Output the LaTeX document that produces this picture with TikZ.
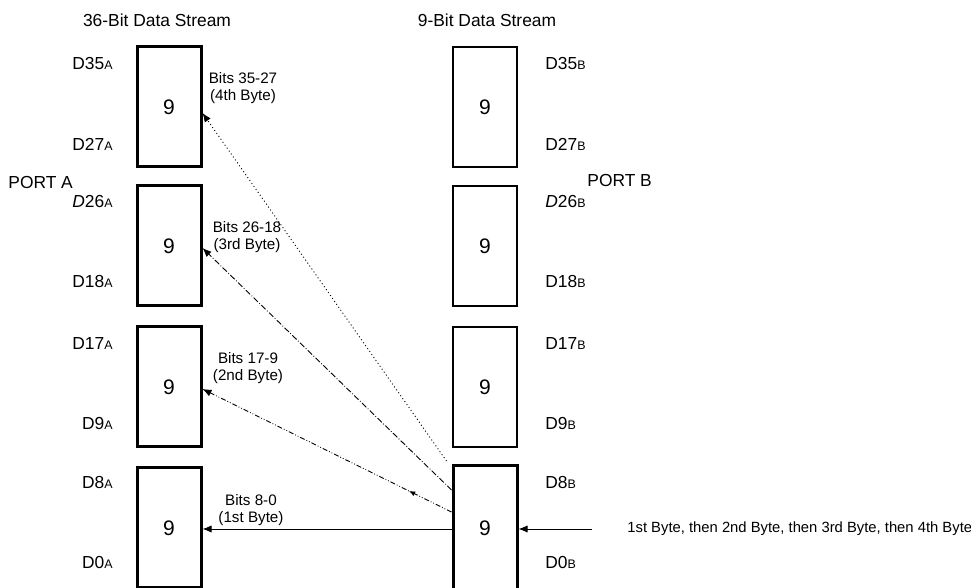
\documentclass[tikz,border=0pt]{standalone}
\usepackage{fontspec}
\setmainfont{Liberation Sans}
\usetikzlibrary{positioning, calc, arrows.meta, decorations.markings}

\newcommand{\sub}[1]{{\fontsize{6.2pt}{7pt}\selectfont #1}}

\begin{document}
\begin{tikzpicture}[
    x=0.5pt, y=-0.5pt,
    >={Latex[length=4.5pt,width=3.6pt]},
    txt/.style={font=\fontsize{8.7pt}{8.2pt}\selectfont, inner sep=0pt},
    blk/.style={draw, minimum width=32pt, minimum height=60pt, inner sep=0pt, font=\fontsize{10.5pt}{12pt}\selectfont},
    blkA/.style={blk, line width=1.5pt},
    blkB/.style={blk, line width=0.6pt},
    blkBin/.style={blk, line width=1.5pt, minimum height=62pt},
    lblA/.style={txt, anchor=east},
    lblB/.style={txt, anchor=west},
    bitlbl/.style={txt, align=center, font=\fontsize{7.6pt}{8.2pt}\selectfont},
    flow/.style={->, line width=0.45pt},
    midtip/.style={postaction={decorate}, decoration={markings,
        mark=at position 0.17 with {\arrow{Latex[length=3pt,width=2.6pt]}}}},
]
\useasboundingbox (0,0) rectangle (971,588);

% ─── Headers ───
\node[txt] at (157, 20) (hdrA) {36-Bit Data Stream};
\node[txt] at (487, 20) (hdrB) {9-Bit Data Stream};

% ─── Port A (36-bit) ───
\node[blkA] at (169, 107) (a1) {9};
\node[blkA] at (169, 246) (a2) {9};
\node[blkA] at (169, 387) (a3) {9};
\node[blkA] at (169, 528) (a4) {9};

\node[txt, anchor=west] at (8, 183) (portA) {PORT A};

\node[lblA] at (113, 64)  (d35a) {D35\sub{A}};
\node[lblA] at (113, 144) (d27a) {D27\sub{A}};
\node[lblA] at (113, 202) (d26a) {\textit{D}26\sub{A}};
\node[lblA] at (113, 282) (d18a) {D18\sub{A}};
\node[lblA] at (113, 344) (d17a) {D17\sub{A}};
\node[lblA] at (113, 424) (d9a)  {D9\sub{A}};
\node[lblA] at (113, 483) (d8a)  {D8\sub{A}};
\node[lblA] at (113, 563) (d0a)  {D0\sub{A}};

% ─── Port B (9-bit) ───
\node[blkB]   at (485, 107) (b1) {9};
\node[blkB]   at (485, 246) (b2) {9};
\node[blkB]   at (485, 387) (b3) {9};
\node[blkBin] at (485, 528) (b4) {9};

\node[txt, anchor=west] at (587, 181) (portB) {PORT B};

\node[lblB] at (545, 64)  (d35b) {D35\sub{B}};
\node[lblB] at (545, 144) (d27b) {D27\sub{B}};
\node[lblB] at (545, 202) (d26b) {\textit{D}26\sub{B}};
\node[lblB] at (545, 282) (d18b) {D18\sub{B}};
\node[lblB] at (545, 344) (d17b) {D17\sub{B}};
\node[lblB] at (545, 424) (d9b)  {D9\sub{B}};
\node[lblB] at (545, 483) (d8b)  {D8\sub{B}};
\node[lblB] at (545, 563) (d0b)  {D0\sub{B}};

% ─── Byte labels ───
\node[bitlbl] at (243, 88)  (bits4) {Bits 35-27\\(4th Byte)};
\node[bitlbl] at (247, 237) (bits3) {Bits 26-18\\(3rd Byte)};
\node[bitlbl] at (248, 368) (bits2) {Bits 17-9\\(2nd Byte)};
\node[bitlbl] at (251, 510) (bits1) {Bits 8-0\\(1st Byte)};

% ─── Incoming byte stream ───
\node[txt, anchor=west, font=\fontsize{7.4pt}{8pt}\selectfont] at (627, 529) (stream)
    {1st Byte, then 2nd Byte, then 3rd Byte, then 4th Byte};
\coordinate (src) at (592, 529);
\draw[flow] (src) -- ($(b4.east)+(0,1)$);

% ─── Flows ───
\draw[flow] ($(b4.west)+(0,1)$) -- ($(a4.east)+(0,1)$);
\draw[flow, midtip, dash pattern=on 2.5pt off 1pt on 0.4pt off 1pt on 0.4pt off 1pt]
    ($(b4.west)+(0,-16)$) -- ($(a3.east)+(0,2)$);
\draw[flow, dash pattern=on 3pt off 1pt on 0.4pt off 1pt]
    ($(b4.west)+(0,-38)$) -- ($(a2.east)+(0,2)$);
\draw[flow, dash pattern=on 0.5pt off 1.3pt]
    ($(b4.west)+(-5,-67)$) -- ($(a1.east)+(0,6)$);

\end{tikzpicture}
\end{document}
